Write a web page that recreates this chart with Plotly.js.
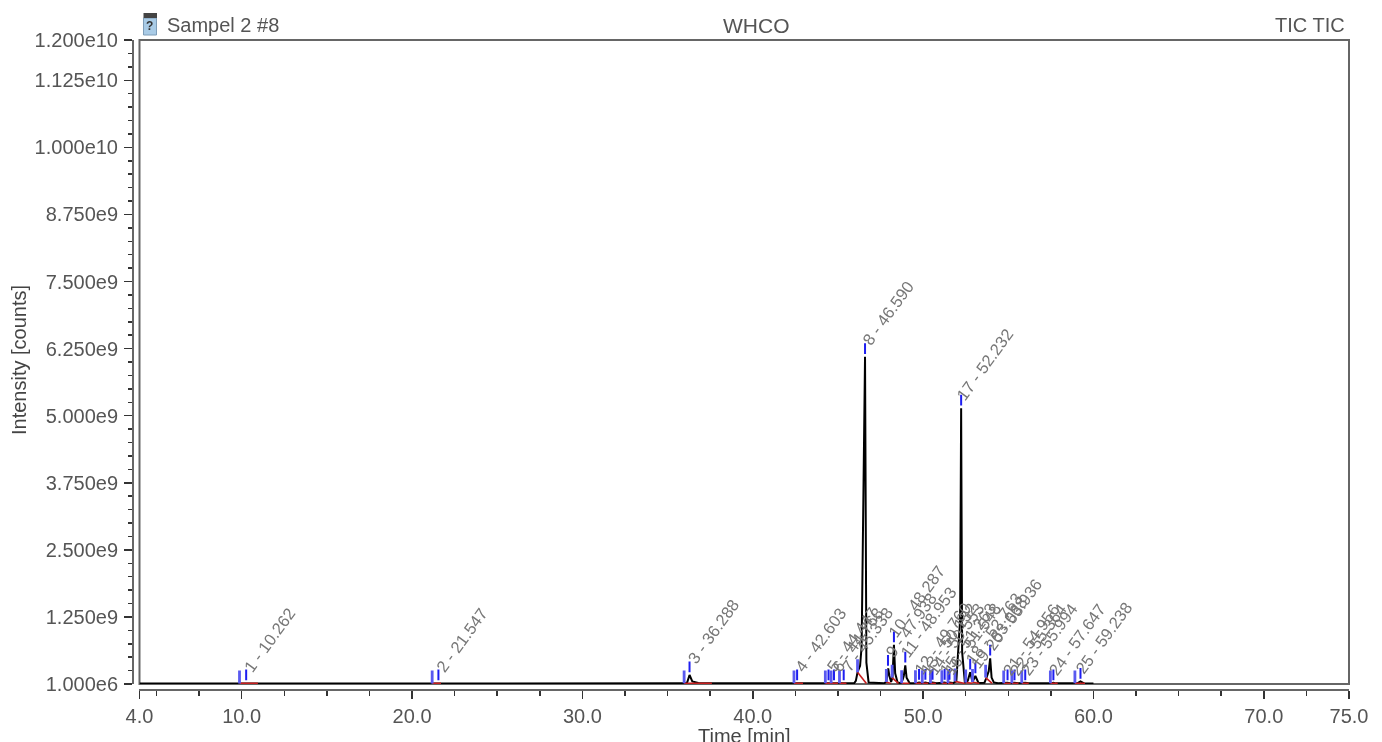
<!DOCTYPE html>
<html>
<head>
<meta charset="utf-8">
<script src="https://cdn.plot.ly/plotly-3.0.1.min.js"></script>
<style>html,body{margin:0;padding:0;background:#fff;overflow:hidden}#c{width:1382px;height:742px;filter:blur(0.4px)}</style>
</head>
<body>
<div id="c"></div>
<script>
// Total ion chromatogram
const ticTimes = [4,10.1,10.26,10.5,21.4,21.55,21.8,35.97,36.15,36.288,36.45,36.8,37.6,42.45,42.6,42.8,44.3,44.45,44.6,44.77,44.95,45.2,45.34,45.5,45.95,46.05,46.15,46.3,46.39,46.59,46.67,46.8,47.7,47.84,47.9,47.95,48.02,48.12,48.2,48.287,48.36,48.5,48.7,48.8,48.87,48.953,49.03,49.2,49.6,49.76,49.95,50.13,50.3,50.55,50.8,51.26,51.4,51.55,51.75,51.95,52.17,52.232,52.29,52.45,52.62,52.763,52.9,53.068,53.25,53.6,53.72,53.85,53.936,54.02,54.15,54.4,54.956,55.1,55.364,55.6,55.994,56.2,57.5,57.647,57.8,59.05,59.238,59.45,60];
const ticValues = [1.2e7,1.2e7,2.2e7,1.2e7,1.2e7,2.2e7,1.2e7,1.3e7,3e7,1.7e8,5e7,2e7,1.3e7,1.3e7,2.5e7,1.3e7,1.3e7,2.2e7,1.5e7,2.2e7,1.3e7,1.3e7,2.2e7,1.3e7,1.5e7,6e7,2.2e8,3.4e8,7e8,6.1e9,4e8,3e7,1.4e7,4e7,1.8e8,2.9e8,1.5e8,4e7,1.2e8,7.3e8,2e8,3e7,1.5e7,8e7,1.6e8,3.5e8,1.2e8,2e7,1.5e7,3e7,1.5e7,3e7,1.5e7,3e7,1.5e7,3e7,1.6e7,3e7,1.8e7,5e7,1.2e9,5.14e9,6e8,3e7,6e7,2.2e8,4e7,1.5e8,2e7,2.5e7,1.2e8,2.4e8,4.8e8,1.2e8,3e7,1.5e7,2.2e7,1.4e7,2.2e7,1.4e7,2.2e7,1.3e7,1.3e7,2.2e7,1.3e7,1.3e7,5e7,1.3e7,1.2e7];

// Integrated peaks
const peakLabels = ["1 - 10.262","2 - 21.547","3 - 36.288","4 - 42.603","5 - 44.447","6 - 44.768","7 - 45.338","8 - 46.590","9 - 47.938","10 - 48.287","11 - 48.953","12 - 49.760","13 - 50.132","14 - 50.553","15 - 51.263","16 - 51.548","17 - 52.232","18 - 52.763","19 - 53.068","20 - 53.936","21 - 54.956","22 - 55.364","23 - 55.994","24 - 57.647","25 - 59.238"];
const apexTimes = [10.262,21.547,36.288,42.603,44.447,44.768,45.338,46.590,47.938,48.287,48.953,49.760,50.132,50.553,51.263,51.548,52.232,52.763,53.068,53.936,54.956,55.364,55.994,57.647,59.238];
const apexHeights = [2e7,2e7,1.7e8,2e7,2e7,2e7,2e7,6.1e9,2.9e8,7.3e8,3.5e8,3e7,3e7,3e7,3e7,3e7,5.14e9,2.2e8,1.5e8,4.8e8,2e7,2e7,2e7,2e7,5e7];
const startTimes = [9.87,21.18,35.97,42.42,44.26,44.6,45.09,46.15,47.84,48.18,48.74,49.55,49.95,50.43,51.1,51.46,51.87,52.5,52.9,53.67,54.73,55.21,55.79,57.47,58.91];
const startHeights = [1.2e7,1.2e7,1.3e7,1.3e7,1.3e7,1.3e7,1.3e7,2.2e8,4e7,1.2e8,1.5e7,1.5e7,1.5e7,1.5e7,1.5e7,1.6e7,5e7,3e7,4e7,1.2e8,1.4e7,1.4e7,1.4e7,1.3e7,1.3e7];
const endTimes = [10.95,21.7,37.6,42.95,44.6,45.0,45.5,46.67,48.1,48.55,49.2,49.9,50.3,50.75,51.4,51.75,52.45,52.9,53.3,54.05,55.15,55.6,56.2,57.9,59.5];

const yTickVals = [1e6,1.25e9,2.5e9,3.75e9,5e9,6.25e9,7.5e9,8.75e9,1e10,1.125e10,1.2e10];
const yTickText = ["1.000e6","1.250e9","2.500e9","3.750e9","5.000e9","6.250e9","7.500e9","8.750e9","1.000e10","1.125e10","1.200e10"];
const xTickVals = [4,10,20,30,40,50,60,70,75];
const xTickText = ["4.0","10.0","20.0","30.0","40.0","50.0","60.0","70.0","75.0"];

const MARK_GAP = 5e7, MARK_LEN = 2e8, START_LEN = 2.4e8;

function segs(x0,y0,x1,y1){
  const xs=[],ys=[];
  x0.forEach((v,i)=>{xs.push(v,x1[i],null);ys.push(y0[i],y1[i],null);});
  return {x:xs,y:ys};
}
const apexMarks = segs(apexTimes,apexHeights.map(h=>h+MARK_GAP),apexTimes,apexHeights.map(h=>h+MARK_GAP+MARK_LEN));
const startMarks = segs(startTimes,startHeights,startTimes,startHeights.map(h=>h+START_LEN));
const baselines = segs(startTimes,startHeights,endTimes,endTimes.map(()=>1.2e7));

const traces = [
 {x:ticTimes,y:ticValues,mode:'lines',line:{color:'#000',width:2},hoverinfo:'skip'},
 {x:baselines.x,y:baselines.y,mode:'lines',line:{color:'#c81e1e',width:1.6},hoverinfo:'skip'},
 {x:startMarks.x,y:startMarks.y,mode:'lines',line:{color:'#5a5af0',width:2.8},hoverinfo:'skip'},
 {x:apexMarks.x,y:apexMarks.y,mode:'lines',line:{color:'#1e1ef0',width:2},hoverinfo:'skip'}
];

const W=1382,H=742,L=133,R=1349.5,T=40,B=690,Lf=139.5,Bf=684;
const px=v=>(v-L)/(R-L), py=v=>(B-v)/(B-T);
const gray='#666';

const annotations = peakLabels.map((t,i)=>({
  x:apexTimes[i],y:apexHeights[i]+MARK_GAP+MARK_LEN,text:t,showarrow:false,textangle:-54,
  xanchor:'center',yanchor:'middle',xshift:23,yshift:30,
  font:{family:'Liberation Sans',size:16.5,color:'#777'}
}));
const hdr={family:'Liberation Sans',size:20,color:'#555'};
annotations.push(
 {xref:'paper',yref:'paper',x:px(165),y:py(25),xanchor:'left',yanchor:'middle',showarrow:false,text:'Sampel 2 #8',font:hdr},
 {xref:'paper',yref:'paper',x:px(756.5),y:py(25),xanchor:'center',yanchor:'middle',showarrow:false,text:'WHCO',font:{...hdr,size:21}},
 {xref:'paper',yref:'paper',x:px(1347),y:py(25),xanchor:'right',yanchor:'middle',showarrow:false,text:'TIC TIC',font:hdr},
 {xref:'paper',yref:'paper',x:px(150),y:py(26.5),xanchor:'center',yanchor:'middle',showarrow:false,text:'<b>?</b>',font:{family:'Liberation Sans',size:12,color:'#333'}},
 {xref:'paper',yref:'paper',x:px(745),y:py(736),xanchor:'center',yanchor:'middle',showarrow:false,text:'Time [min]',font:{family:'Liberation Sans',size:20,color:'#444'}},
 {xref:'paper',yref:'paper',x:px(19),y:py(360),xanchor:'center',yanchor:'middle',textangle:-90,showarrow:false,text:'Intensity [counts]',font:{family:'Liberation Sans',size:20,color:'#444'}}
);

const shapes=[
 {type:'rect',xref:'x domain',yref:'y domain',x0:0,x1:1,y0:0,y1:1,line:{color:'#666',width:2},layer:'below'},
 {type:'rect',xref:'paper',yref:'paper',x0:px(143.5),x1:px(156.5),y0:py(18),y1:py(35),fillcolor:'#a9cbe6',line:{width:1,color:'#7d9cb8'}},
 {type:'rect',xref:'paper',yref:'paper',x0:px(143.5),x1:px(157),y0:py(13),y1:py(18),fillcolor:'#444',line:{width:0}}
];

const layout={
 width:W,height:H,paper_bgcolor:'#fff',plot_bgcolor:'#fff',showlegend:false,
 margin:{l:L,r:W-R,t:T,b:H-B,pad:0},
 xaxis:{domain:[px(Lf),1],anchor:'free',position:0,range:[4,75],
   tickmode:'array',tickvals:xTickVals,ticktext:xTickText,ticks:'outside',ticklen:8,tickwidth:1.5,tickcolor:'#333',
   minor:{dtick:2.5,tick0:0,ticks:'outside',ticklen:5,tickwidth:1.5,tickcolor:'#333'},
   showline:true,linecolor:gray,linewidth:2,showgrid:false,zeroline:false,
   tickfont:{family:'Liberation Sans',size:20,color:'#555'}},
 yaxis:{domain:[py(Bf),1],anchor:'free',position:0,range:[1e6,1.2e10],
   tickmode:'array',tickvals:yTickVals,ticktext:yTickText,ticks:'outside',ticklen:8,tickwidth:1.5,tickcolor:'#333',
   minor:{dtick:2.5e8,tick0:0,ticks:'outside',ticklen:4,tickwidth:1.5,tickcolor:'#333'},
   showline:true,linecolor:gray,linewidth:2,showgrid:false,zeroline:false,ticklabelstandoff:2,
   tickfont:{family:'Liberation Sans',size:20,color:'#555'}},
 annotations,shapes
};
Plotly.newPlot('c',traces,layout,{displayModeBar:false,staticPlot:true});
</script>
</body>
</html>
